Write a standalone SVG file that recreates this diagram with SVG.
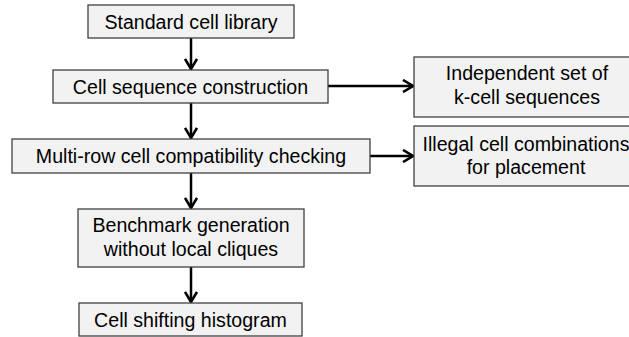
<svg xmlns="http://www.w3.org/2000/svg" width="629" height="337" viewBox="0 0 629 337">
<style>
.box{fill:#f2f2f2;stroke:#404040;stroke-width:1.3}
.t{font-family:"Liberation Sans",Arial,sans-serif;font-size:19.6px;fill:#000;text-anchor:middle}
.c{stroke:#000;stroke-width:2.5;fill:none}
</style>
<defs>
<marker id="ah" viewBox="0 0 12 14" refX="11" refY="7" markerWidth="12" markerHeight="14" markerUnits="userSpaceOnUse" orient="auto">
<path d="M1,1 L11,7 L1,13" fill="none" stroke="#000" stroke-width="2.6"/>
</marker>
</defs>
<rect width="629" height="337" fill="#fff"/>
<g id="connectors">
<line class="c" x1="191" y1="38" x2="191" y2="69" marker-end="url(#ah)"/>
<line class="c" x1="191" y1="103" x2="191" y2="138" marker-end="url(#ah)"/>
<line class="c" x1="191" y1="173" x2="191" y2="208" marker-end="url(#ah)"/>
<line class="c" x1="191" y1="267" x2="191" y2="302" marker-end="url(#ah)"/>
<line class="c" x1="328" y1="86" x2="413" y2="86" marker-end="url(#ah)"/>
<line class="c" x1="370" y1="156" x2="413" y2="156" marker-end="url(#ah)"/>
</g>
<g id="n1"><rect class="box" x="88" y="5" width="206" height="33"/><text class="t" x="191" y="29">Standard cell library</text></g>
<g id="n2"><rect class="box" x="53" y="70" width="275" height="33"/><text class="t" x="190.5" y="94">Cell sequence construction</text></g>
<g id="n3"><rect class="box" x="414" y="57" width="230" height="60"/><text class="t" x="527" y="80">Independent set of</text><text class="t" x="527" y="104">k-cell sequences</text></g>
<g id="n4"><rect class="box" x="12" y="139" width="358" height="34"/><text class="t" x="191" y="163">Multi-row cell compatibility checking</text></g>
<g id="n5"><rect class="box" x="414" y="126" width="230" height="60"/><text class="t" x="526" y="151">Illegal cell combinations</text><text class="t" x="526" y="174">for placement</text></g>
<g id="n6"><rect class="box" x="78" y="209" width="226" height="58"/><text class="t" x="191" y="232">Benchmark generation</text><text class="t" x="191" y="256">without local cliques</text></g>
<g id="n7"><rect class="box" x="79" y="303" width="223" height="33"/><text class="t" x="190.5" y="327">Cell shifting histogram</text></g>
</svg>
